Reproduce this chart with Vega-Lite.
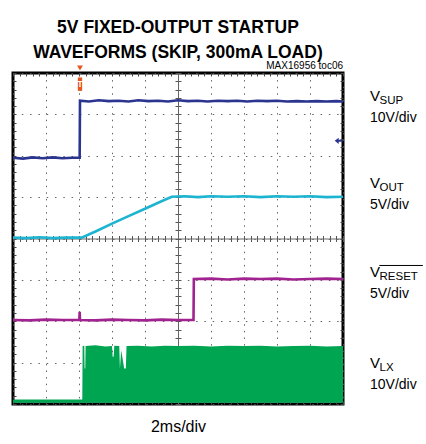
{
  "$schema": "https://vega.github.io/schema/vega-lite/v6.json",
  "autosize": {"type": "none"},
  "width": 330,
  "height": 331,
  "padding": {"left": 13, "top": 73, "right": 83, "bottom": 40},
  "background": "#ffffff",
  "title": {
    "text": ["5V FIXED-OUTPUT STARTUP", "WAVEFORMS (SKIP, 300mA LOAD)"],
    "font": "Liberation Sans, Arial, sans-serif",
    "fontSize": 17.5,
    "fontWeight": "bold",
    "color": "#000000",
    "lineHeight": 25,
    "anchor": "middle",
    "offset": 0
  },
  "config": {
    "view": {"stroke": "#000000", "strokeWidth": 3},
    "axis": {"labels": false, "domain": false, "grid": false, "ticks": false, "title": null}
  },
  "datasets": {
    "tr": [
      {"s": "VSUP", "t": 0, "v": 5.95}, {"s": "VSUP", "t": 0.3, "v": 5.93}, {"s": "VSUP", "t": 0.6, "v": 5.96}, {"s": "VSUP", "t": 0.9, "v": 5.94}, {"s": "VSUP", "t": 1.2, "v": 5.96}, {"s": "VSUP", "t": 1.5, "v": 5.94}, {"s": "VSUP", "t": 1.8, "v": 5.95}, {"s": "VSUP", "t": 2.02, "v": 5.95}, {"s": "VSUP", "t": 2.03, "v": 7.33}, {"s": "VSUP", "t": 2.3, "v": 7.31}, {"s": "VSUP", "t": 2.6, "v": 7.34}, {"s": "VSUP", "t": 2.9, "v": 7.32}, {"s": "VSUP", "t": 3.2, "v": 7.33}, {"s": "VSUP", "t": 3.5, "v": 7.31}, {"s": "VSUP", "t": 3.8, "v": 7.34}, {"s": "VSUP", "t": 4.1, "v": 7.32}, {"s": "VSUP", "t": 4.4, "v": 7.33}, {"s": "VSUP", "t": 4.7, "v": 7.31}, {"s": "VSUP", "t": 5.0, "v": 7.34}, {"s": "VSUP", "t": 5.3, "v": 7.32}, {"s": "VSUP", "t": 5.6, "v": 7.33}, {"s": "VSUP", "t": 5.9, "v": 7.31}, {"s": "VSUP", "t": 6.2, "v": 7.33}, {"s": "VSUP", "t": 6.5, "v": 7.32}, {"s": "VSUP", "t": 6.8, "v": 7.33}, {"s": "VSUP", "t": 7.1, "v": 7.31}, {"s": "VSUP", "t": 7.4, "v": 7.33}, {"s": "VSUP", "t": 7.7, "v": 7.32}, {"s": "VSUP", "t": 8.0, "v": 7.33}, {"s": "VSUP", "t": 8.3, "v": 7.31}, {"s": "VSUP", "t": 8.6, "v": 7.32}, {"s": "VSUP", "t": 8.9, "v": 7.31}, {"s": "VSUP", "t": 9.2, "v": 7.32}, {"s": "VSUP", "t": 9.5, "v": 7.31}, {"s": "VSUP", "t": 9.8, "v": 7.32}, {"s": "VSUP", "t": 10, "v": 7.31},
      {"s": "VOUT", "t": 0, "v": 4.02}, {"s": "VOUT", "t": 0.4, "v": 4.01}, {"s": "VOUT", "t": 0.8, "v": 4.03}, {"s": "VOUT", "t": 1.2, "v": 4.01}, {"s": "VOUT", "t": 1.6, "v": 4.02}, {"s": "VOUT", "t": 2.0, "v": 4.02}, {"s": "VOUT", "t": 2.08, "v": 4.02}, {"s": "VOUT", "t": 2.5, "v": 4.17}, {"s": "VOUT", "t": 3.0, "v": 4.36}, {"s": "VOUT", "t": 3.5, "v": 4.54}, {"s": "VOUT", "t": 4.0, "v": 4.72}, {"s": "VOUT", "t": 4.5, "v": 4.9}, {"s": "VOUT", "t": 4.81, "v": 5.01}, {"s": "VOUT", "t": 5.2, "v": 5.02}, {"s": "VOUT", "t": 5.6, "v": 5.0}, {"s": "VOUT", "t": 6.0, "v": 5.02}, {"s": "VOUT", "t": 6.5, "v": 5.01}, {"s": "VOUT", "t": 7.0, "v": 5.02}, {"s": "VOUT", "t": 7.5, "v": 5.0}, {"s": "VOUT", "t": 8.0, "v": 5.02}, {"s": "VOUT", "t": 8.5, "v": 5.01}, {"s": "VOUT", "t": 9.0, "v": 5.02}, {"s": "VOUT", "t": 9.5, "v": 5.0}, {"s": "VOUT", "t": 10, "v": 5.01},
      {"s": "VRESET", "t": 0, "v": 2.03}, {"s": "VRESET", "t": 0.5, "v": 2.02}, {"s": "VRESET", "t": 1.0, "v": 2.04}, {"s": "VRESET", "t": 1.5, "v": 2.03}, {"s": "VRESET", "t": 2.01, "v": 2.03}, {"s": "VRESET", "t": 2.02, "v": 2.23}, {"s": "VRESET", "t": 2.03, "v": 2.03}, {"s": "VRESET", "t": 2.5, "v": 2.02}, {"s": "VRESET", "t": 3.0, "v": 2.04}, {"s": "VRESET", "t": 3.5, "v": 2.03}, {"s": "VRESET", "t": 4.0, "v": 2.02}, {"s": "VRESET", "t": 4.5, "v": 2.04}, {"s": "VRESET", "t": 5.0, "v": 2.03}, {"s": "VRESET", "t": 5.47, "v": 2.03}, {"s": "VRESET", "t": 5.48, "v": 3.02}, {"s": "VRESET", "t": 6.0, "v": 3.03}, {"s": "VRESET", "t": 6.5, "v": 3.01}, {"s": "VRESET", "t": 7.0, "v": 3.03}, {"s": "VRESET", "t": 7.5, "v": 3.02}, {"s": "VRESET", "t": 8.0, "v": 3.03}, {"s": "VRESET", "t": 8.5, "v": 3.01}, {"s": "VRESET", "t": 9.0, "v": 3.02}, {"s": "VRESET", "t": 9.5, "v": 3.03}, {"s": "VRESET", "t": 10, "v": 3.02}
    ],
    "lx": [
      {"t": 0, "top": 0.11}, {"t": 2.1, "top": 0.11}, {"t": 2.11, "top": 1.4}, {"t": 2.16, "top": 1.41}, {"t": 2.17, "top": 0.86}, {"t": 2.19, "top": 0.86}, {"t": 2.2, "top": 1.4}, {"t": 2.5, "top": 1.42}, {"t": 2.8, "top": 1.39}, {"t": 3.0, "top": 1.4}, {"t": 3.02, "top": 1.14}, {"t": 3.05, "top": 1.14}, {"t": 3.07, "top": 1.41}, {"t": 3.22, "top": 1.4}, {"t": 3.24, "top": 0.86}, {"t": 3.28, "top": 1.3}, {"t": 3.33, "top": 1.05}, {"t": 3.37, "top": 0.86}, {"t": 3.42, "top": 0.86}, {"t": 3.44, "top": 1.4}, {"t": 3.8, "top": 1.41}, {"t": 4.2, "top": 1.39}, {"t": 4.6, "top": 1.41}, {"t": 5.0, "top": 1.4}, {"t": 5.5, "top": 1.41}, {"t": 6.0, "top": 1.39}, {"t": 6.5, "top": 1.41}, {"t": 7.0, "top": 1.4}, {"t": 7.5, "top": 1.41}, {"t": 8.0, "top": 1.39}, {"t": 8.5, "top": 1.4}, {"t": 9.0, "top": 1.41}, {"t": 9.5, "top": 1.39}, {"t": 10, "top": 1.4}
    ],
    "labels": [
      {"ch": "SUP", "scale": "10V/div", "ly": 7.32},
      {"ch": "OUT", "scale": "5V/div", "ly": 5.22},
      {"ch": "RESET", "scale": "5V/div", "ly": 3.07},
      {"ch": "LX", "scale": "10V/div", "ly": 0.87}
    ],
    "trig": [{"t": 2.03, "v": 7.73, "top": 8.12}],
    "gnd": [{"t": 9.87, "v": 6.36}],
    "note": [{"text": "MAX16956 toc06", "t": 10, "v": 8.09}]
  },
  "resolve": {"axis": {"x": "independent", "y": "independent"}},
  "layer": [
    {
      "data": {"name": "lx"},
      "mark": {"type": "area", "color": "#00a551", "opacity": 1},
      "encoding": {
        "x": {"field": "t", "type": "quantitative", "scale": {"domain": [0, 10], "nice": false, "zero": false},
          "axis": {"values": [0,1,2,3,4,5,6,7,8,9,10], "grid": true, "gridColor": "#555555", "gridDash": [1.5, 5.1], "gridWidth": 1, "gridOpacity": 0.9,
            "title": "2ms/div", "titleFont": "Liberation Sans, Arial, sans-serif", "titleFontSize": 16, "titleFontWeight": "normal", "titleColor": "#000000", "titlePadding": 14}},
        "y": {"field": "top", "type": "quantitative", "scale": {"domain": [0, 8], "nice": false, "zero": false},
          "axis": {"values": [0,1,2,3,4,5,6,7,8], "grid": true, "gridColor": "#555555", "gridDash": [1.5, 6.8], "gridWidth": 1, "gridOpacity": 0.9}},
        "y2": {"datum": 0.03}
      }
    },
    {
      "data": {"name": "tr"},
      "transform": [{"filter": "datum.s === 'VRESET'"}],
      "mark": {"type": "line", "color": "#a0238f", "strokeWidth": 2.6},
      "encoding": {
        "x": {"field": "t", "type": "quantitative",
          "axis": {"orient": "bottom", "offset": -331, "ticks": true, "tickSize": 3, "tickColor": "#444444", "tickWidth": 1,
            "values": [0,0.2,0.4,0.6,0.8,1,1.2,1.4,1.6,1.8,2,2.2,2.4,2.6,2.8,3,3.2,3.4,3.6,3.8,4,4.2,4.4,4.6,4.8,5,5.2,5.4,5.6,5.8,6,6.2,6.4,6.6,6.8,7,7.2,7.4,7.6,7.8,8,8.2,8.4,8.6,8.8,9,9.2,9.4,9.6,9.8,10]}},
        "y": {"field": "v", "type": "quantitative",
          "axis": {"orient": "left", "offset": -330, "ticks": true, "tickSize": 3, "tickColor": "#444444", "tickWidth": 1,
            "values": [0,0.2,0.4,0.6,0.8,1,1.2,1.4,1.6,1.8,2,2.2,2.4,2.6,2.8,3,3.2,3.4,3.6,3.8,4,4.2,4.4,4.6,4.8,5,5.2,5.4,5.6,5.8,6,6.2,6.4,6.6,6.8,7,7.2,7.4,7.6,7.8,8]}}
      }
    },
    {
      "data": {"name": "tr"},
      "transform": [{"filter": "datum.s === 'VOUT'"}],
      "mark": {"type": "line", "color": "#1cb4d0", "strokeWidth": 2.6},
      "encoding": {
        "x": {"field": "t", "type": "quantitative",
          "axis": {"orient": "top", "offset": -331, "ticks": true, "tickSize": 3, "tickColor": "#444444", "tickWidth": 1,
            "values": [0,0.2,0.4,0.6,0.8,1,1.2,1.4,1.6,1.8,2,2.2,2.4,2.6,2.8,3,3.2,3.4,3.6,3.8,4,4.2,4.4,4.6,4.8,5,5.2,5.4,5.6,5.8,6,6.2,6.4,6.6,6.8,7,7.2,7.4,7.6,7.8,8,8.2,8.4,8.6,8.8,9,9.2,9.4,9.6,9.8,10]}},
        "y": {"field": "v", "type": "quantitative",
          "axis": {"orient": "right", "offset": -330, "ticks": true, "tickSize": 3, "tickColor": "#444444", "tickWidth": 1,
            "values": [0,0.2,0.4,0.6,0.8,1,1.2,1.4,1.6,1.8,2,2.2,2.4,2.6,2.8,3,3.2,3.4,3.6,3.8,4,4.2,4.4,4.6,4.8,5,5.2,5.4,5.6,5.8,6,6.2,6.4,6.6,6.8,7,7.2,7.4,7.6,7.8,8]}}
      }
    },
    {
      "data": {"name": "tr"},
      "transform": [{"filter": "datum.s === 'VSUP'"}],
      "mark": {"type": "line", "color": "#2b3590", "strokeWidth": 2.6},
      "encoding": {
        "x": {"field": "t", "type": "quantitative",
          "axis": {"orient": "bottom", "offset": -165.5, "domain": true, "domainColor": "#666666", "domainWidth": 1, "ticks": true, "tickSize": 3, "tickColor": "#555555", "tickWidth": 1,
            "values": [0,0.2,0.4,0.6,0.8,1,1.2,1.4,1.6,1.8,2,2.2,2.4,2.6,2.8,3,3.2,3.4,3.6,3.8,4,4.2,4.4,4.6,4.8,5,5.2,5.4,5.6,5.8,6,6.2,6.4,6.6,6.8,7,7.2,7.4,7.6,7.8,8,8.2,8.4,8.6,8.8,9,9.2,9.4,9.6,9.8,10]}},
        "y": {"field": "v", "type": "quantitative",
          "axis": {"orient": "left", "offset": -165, "domain": true, "domainColor": "#666666", "domainWidth": 1, "ticks": true, "tickSize": 3, "tickColor": "#555555", "tickWidth": 1,
            "values": [0,0.2,0.4,0.6,0.8,1,1.2,1.4,1.6,1.8,2,2.2,2.4,2.6,2.8,3,3.2,3.4,3.6,3.8,4,4.2,4.4,4.6,4.8,5,5.2,5.4,5.6,5.8,6,6.2,6.4,6.6,6.8,7,7.2,7.4,7.6,7.8,8]}}
      }
    },
    {
      "data": {"name": "trig"},
      "mark": {"type": "point", "shape": "M-0.32,-1H0.32V1H-0.32Z", "filled": true, "color": "#e8561f", "opacity": 1, "size": 180},
      "encoding": {
        "x": {"field": "t", "type": "quantitative",
          "axis": {"orient": "top", "offset": -165.5, "ticks": true, "tickSize": 3, "tickColor": "#555555", "tickWidth": 1,
            "values": [0,0.2,0.4,0.6,0.8,1,1.2,1.4,1.6,1.8,2,2.2,2.4,2.6,2.8,3,3.2,3.4,3.6,3.8,4,4.2,4.4,4.6,4.8,5,5.2,5.4,5.6,5.8,6,6.2,6.4,6.6,6.8,7,7.2,7.4,7.6,7.8,8,8.2,8.4,8.6,8.8,9,9.2,9.4,9.6,9.8,10]}},
        "y": {"field": "v", "type": "quantitative",
          "axis": {"orient": "right", "offset": -165, "ticks": true, "tickSize": 3, "tickColor": "#555555", "tickWidth": 1,
            "values": [0,0.2,0.4,0.6,0.8,1,1.2,1.4,1.6,1.8,2,2.2,2.4,2.6,2.8,3,3.2,3.4,3.6,3.8,4,4.2,4.4,4.6,4.8,5,5.2,5.4,5.6,5.8,6,6.2,6.4,6.6,6.8,7,7.2,7.4,7.6,7.8,8]}}
      }
    },
    {
      "data": {"name": "trig"},
      "mark": {"type": "text", "text": "T", "color": "#ffffff", "font": "Liberation Sans", "fontSize": 9, "fontWeight": "bold", "baseline": "middle", "align": "center"},
      "encoding": {
        "x": {"field": "t", "type": "quantitative", "axis": null},
        "y": {"field": "v", "type": "quantitative", "axis": null}
      }
    },
    {
      "data": {"name": "trig"},
      "mark": {"type": "point", "shape": "triangle-down", "filled": true, "color": "#e8561f", "opacity": 1, "size": 35},
      "encoding": {
        "x": {"field": "t", "type": "quantitative", "axis": null},
        "y": {"field": "top", "type": "quantitative", "axis": null}
      }
    },
    {
      "data": {"name": "gnd"},
      "mark": {"type": "point", "shape": "M-1,0L0,-0.8L0,-0.25L1,-0.25L1,0.25L0,0.25L0,0.8Z", "filled": true, "color": "#2b3590", "opacity": 1, "size": 64},
      "encoding": {
        "x": {"field": "t", "type": "quantitative", "axis": null},
        "y": {"field": "v", "type": "quantitative", "axis": null}
      }
    },
    {
      "data": {"name": "note"},
      "mark": {"type": "text", "align": "right", "baseline": "alphabetic", "font": "Liberation Sans, Arial, sans-serif", "fontSize": 10, "color": "#000000"},
      "encoding": {
        "x": {"field": "t", "type": "quantitative", "axis": null},
        "y": {"field": "v", "type": "quantitative", "axis": null},
        "text": {"field": "text"}
      }
    },
    {
      "data": {"name": "labels"},
      "mark": {"type": "text", "text": "V", "align": "left", "baseline": "alphabetic", "dx": 27, "font": "Liberation Sans, Arial, sans-serif", "fontSize": 15, "color": "#000000"},
      "encoding": {
        "x": {"datum": 10, "type": "quantitative", "axis": null},
        "y": {"field": "ly", "type": "quantitative", "axis": null}
      }
    },
    {
      "data": {"name": "labels"},
      "mark": {"type": "text", "align": "left", "baseline": "alphabetic", "dx": 36.5, "dy": 3, "font": "Liberation Sans, Arial, sans-serif", "fontSize": 11.5, "color": "#000000"},
      "encoding": {
        "x": {"datum": 10, "type": "quantitative", "axis": null},
        "y": {"field": "ly", "type": "quantitative", "axis": null},
        "text": {"field": "ch"}
      }
    },
    {
      "data": {"name": "labels"},
      "mark": {"type": "text", "align": "left", "baseline": "alphabetic", "dx": 27, "dy": 21, "font": "Liberation Sans, Arial, sans-serif", "fontSize": 14, "color": "#000000"},
      "encoding": {
        "x": {"datum": 10, "type": "quantitative", "axis": null},
        "y": {"field": "ly", "type": "quantitative", "axis": null},
        "text": {"field": "scale"}
      }
    },
    {
      "data": {"name": "labels"},
      "transform": [{"filter": "datum.ch === 'RESET'"}],
      "mark": {"type": "rule", "color": "#000000", "strokeWidth": 1, "yOffset": -11.5},
      "encoding": {
        "x": {"datum": 11.1, "type": "quantitative", "axis": null},
        "x2": {"datum": 12.42},
        "y": {"field": "ly", "type": "quantitative", "axis": null}
      }
    }
  ]
}
